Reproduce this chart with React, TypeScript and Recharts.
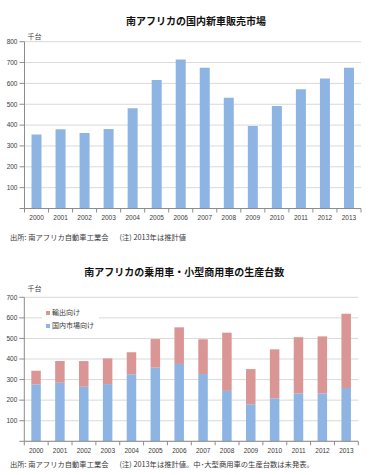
import React from 'react';
import { BarChart, Bar, XAxis, YAxis, CartesianGrid, Legend } from 'recharts';

const years = ['2000', '2001', '2002', '2003', '2004', '2005', '2006', '2007', '2008', '2009', '2010', '2011', '2012', '2013'];
const salesValues = [355, 380, 362, 381, 481, 616, 715, 675, 531, 396, 492, 572, 624, 675];
const domesticValues = [277, 285, 265, 278, 326, 358, 376, 327, 245, 180, 209, 233, 233, 259];
const exportValues = [66, 105, 125, 125, 107, 139, 178, 169, 283, 171, 238, 273, 277, 361];
const ticks1 = [0, 100, 200, 300, 400, 500, 600, 700, 800];
const ticks2 = [0, 100, 200, 300, 400, 500, 600, 700];

const title1 = '南アフリカの国内新車販売市場';
const title2 = '南アフリカの乗用車・小型商用車の生産台数';
const unitLabel = '千台';
const source1a = '出所: 南アフリカ自動車工業会';
const source1b = '(注) 2013年は推計値';
const source2b = '(注) 2013年は推計値。中･大型商用車の生産台数は未発表。';
const exportName = '輸出向け';
const domesticName = '国内市場向け';

const salesData = years.map((y, i) => ({ year: y, sales: salesValues[i] }));
const prodData = years.map((y, i) => ({ year: y, domestic: domesticValues[i], export: exportValues[i] }));

const BLUE = '#8DB4E2';
const PINK = '#D99694';
const AXIS = '#8c8c8c';
const GRID = '#d9d9d9';
const TXT = '#3a3a3a';
const FONT = '"Liberation Sans", "Noto Sans CJK JP", sans-serif';
const JFONT = '"Noto Sans CJK JP", sans-serif';

const makeXTick = (band: number, count: number) => (props: any) => {
  const { x, y, payload, index } = props;
  const axisY = y - 7;
  return (
    <g>
      <line x1={x - band / 2} x2={x - band / 2} y1={axisY} y2={axisY + 4} stroke={AXIS} />
      {index === count - 1 && (
        <line x1={x + band / 2} x2={x + band / 2} y1={axisY} y2={axisY + 4} stroke={AXIS} />
      )}
      <text x={x} y={y} dy="0.71em" textAnchor="middle" fontSize={6.5} fill={TXT} fontFamily={FONT}>
        {payload.value}
      </text>
    </g>
  );
};

const yFmt = (v: number) => (v === 0 ? '' : String(v));

const LegendBox = () => (
  <div style={{ background: '#fff', width: 57, height: 30, fontFamily: JFONT, fontSize: 7, color: TXT, lineHeight: '13px', paddingTop: 3, boxSizing: 'border-box' }}>
    <div style={{ display: 'flex', alignItems: 'center', paddingLeft: 4 }}>
      <span style={{ width: 4, height: 4, background: PINK, display: 'inline-block', marginRight: 2 }} />
      {exportName}
    </div>
    <div style={{ display: 'flex', alignItems: 'center', paddingLeft: 4 }}>
      <span style={{ width: 4, height: 4, background: BLUE, display: 'inline-block', marginRight: 2 }} />
      {domesticName}
    </div>
  </div>
);

export default function App() {
  const band1 = (371 - 24.5 - 10) / 14;
  const band2 = (371 - 24.3 - 12.7) / 14;
  const abs = (top: number, left: number, extra: any = {}) => ({ position: 'absolute' as const, top, left, whiteSpace: 'pre' as const, ...extra });
  return (
    <div style={{ position: 'absolute', left: 0, top: 0, width: 371, height: 475, background: '#fff', overflow: 'hidden' }}>
      <div style={abs(15, 0, { width: 392, textAlign: 'center', fontFamily: JFONT, fontSize: 10, fontWeight: 700, lineHeight: '12px', color: '#111' })}>{title1}</div>
      <div style={abs(31.5, 27.5, { fontFamily: JFONT, fontSize: 7, lineHeight: '9px', color: TXT })}>{unitLabel}</div>
      <div style={{ position: 'absolute', left: 0, top: 0 }}>
        <BarChart width={371} height={230} data={salesData} margin={{ top: 41.7, right: 10, bottom: 0, left: 0 }} barCategoryGap="58%">
          <CartesianGrid vertical={false} stroke={GRID} />
          <XAxis dataKey="year" height={21.5} tickSize={4} tickMargin={3} tickLine={false} stroke={AXIS} tick={makeXTick(band1, 14)} interval={0} />
          <YAxis width={24.5} domain={[0, 800]} ticks={ticks1} tickFormatter={yFmt} tickSize={5} tickMargin={2} stroke={AXIS} tick={{ fontSize: 6.5, fill: TXT, fontFamily: FONT }} interval={0} />
          <Bar dataKey="sales" fill={BLUE} barSize={10} isAnimationActive={false} />
        </BarChart>
      </div>
      <div style={abs(232.5, 10, { fontFamily: JFONT, fontSize: 7.3, lineHeight: '9px', color: TXT })}>{source1a}<span style={{ marginLeft: 11 }}>{source1b}</span></div>

      <div style={abs(265.5, 0, { width: 368.6, textAlign: 'center', fontFamily: JFONT, fontSize: 10, fontWeight: 700, lineHeight: '12px', color: '#111' })}>{title2}</div>
      <div style={abs(283.8, 27.5, { fontFamily: JFONT, fontSize: 7, lineHeight: '9px', color: TXT })}>{unitLabel}</div>
      <div style={{ position: 'absolute', left: 0, top: 250 }}>
        <BarChart width={371} height={212.8} data={prodData} margin={{ top: 47.3, right: 12.7, bottom: 0, left: 0 }} barCategoryGap="60%">
          <CartesianGrid vertical={false} stroke={GRID} />
          <XAxis dataKey="year" height={21.5} tickSize={4} tickMargin={3} tickLine={false} stroke={AXIS} tick={makeXTick(band2, 14)} interval={0} />
          <YAxis width={24.3} domain={[0, 700]} ticks={ticks2} tickFormatter={yFmt} tickSize={5} tickMargin={2} stroke={AXIS} tick={{ fontSize: 6.5, fill: TXT, fontFamily: FONT }} interval={0} />
          <Legend layout="vertical" align="center" verticalAlign="middle" content={() => <LegendBox />} wrapperStyle={{ position: 'absolute', left: 42, top: 53, width: 57, height: 30 }} />
          <Bar dataKey="domestic" stackId="a" fill={BLUE} barSize={9.5} isAnimationActive={false} />
          <Bar dataKey="export" stackId="a" fill={PINK} barSize={9.5} isAnimationActive={false} />
        </BarChart>
      </div>
      <div style={abs(459.5, 10, { fontFamily: JFONT, fontSize: 7.3, lineHeight: '9px', color: TXT })}>{source1a}<span style={{ marginLeft: 11 }}>{source2b}</span></div>
    </div>
  );
}
